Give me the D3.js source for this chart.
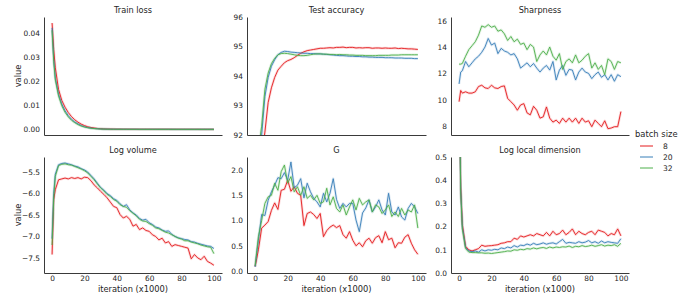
<!DOCTYPE html>
<html>
<head>
<meta charset="utf-8">
<script src="https://cdn.jsdelivr.net/npm/d3@7"></script>
<style>
  html, body { margin: 0; padding: 0; background: #fff; }
  svg { display: block; font-family: "DejaVu Sans", sans-serif; }
</style>
</head>
<body>
<svg id="chart" width="685" height="303"></svg>
<script>
// iteration (x1000) at which every series was logged
var iters = [0, 1, 2, 4, 6, 8, 10, 12, 14, 16, 18, 20, 22, 24, 26, 28, 30, 32, 34, 36, 38, 40,
  42, 44, 46, 48, 50, 52, 54, 56, 58, 60, 62, 64, 66, 68, 70, 72, 74, 76, 78, 80, 82, 84, 86,
  88, 90, 92, 94, 96, 98, 100];
var batchSizes = ['8', '20', '32'];
var xTicks = [0, 20, 40, 60, 80, 100];

var trainLoss8 = [0.044, 0.033, 0.0255, 0.0165, 0.012, 0.0092, 0.007, 0.0053, 0.004, 0.003, 0.0022,
  0.0016, 0.0011, 0.0008, 0.0006, 0.0004, 0.0003, 0.0002, 0.00016, 0.00013, 0.00011, 0.0001, 0.0001,
  0.00009, 0.00009, 0.00008, 0.00008, 0.00008, 0.00007, 0.00007, 0.00007, 0.00007, 0.00006, 0.00006,
  0.00006, 0.00006, 0.00006, 0.00006, 0.00005, 0.00005, 0.00005, 0.00005, 0.00005, 0.00005, 0.00005,
  0.00005, 0.00005, 0.00004, 0.00004, 0.00004, 0.00004, 0.00004];
var trainLoss20 = [0.042, 0.029, 0.0212, 0.0145, 0.0105, 0.0077, 0.0057, 0.0042, 0.0031, 0.0023,
  0.0016, 0.0011, 0.0008, 0.00055, 0.0004, 0.0003, 0.0002, 0.00015, 0.00012, 0.0001, 0.00009, 0.00008,
  0.00008, 0.00007, 0.00007, 0.00006, 0.00006, 0.00006, 0.00005, 0.00005, 0.00005, 0.00005, 0.00005,
  0.00005, 0.00005, 0.00005, 0.00005, 0.00005, 0.00004, 0.00004, 0.00004, 0.00004, 0.00004, 0.00004,
  0.00004, 0.00004, 0.00004, 0.00004, 0.00004, 0.00004, 0.00004, 0.00004];
var trainLoss32 = [0.041, 0.028, 0.0205, 0.0138, 0.0098, 0.0071, 0.0052, 0.0038, 0.0028, 0.002,
  0.0014, 0.001, 0.0007, 0.0005, 0.00035, 0.00025, 0.00018, 0.00013, 0.0001, 0.00009, 0.00008, 0.00007,
  0.00007, 0.00006, 0.00006, 0.00005, 0.00005, 0.00005, 0.00004, 0.00004, 0.00004, 0.00004, 0.00004,
  0.00004, 0.00004, 0.00004, 0.00004, 0.00004, 0.00004, 0.00004, 0.00003, 0.00003, 0.00003, 0.00003,
  0.00003, 0.00003, 0.00003, 0.00003, 0.00003, 0.00003, 0.00003, 0.00003];

var testAcc8 = [86.0, 88.5, 90.0, 91.3, 92.1, 93.1, 93.6, 93.95, 94.2, 94.33, 94.45, 94.52, 94.56,
  94.62, 94.7, 94.77, 94.82, 94.86, 94.88, 94.9, 94.92, 94.94, 94.94, 94.95, 94.96, 94.95, 94.97,
  94.97, 94.98, 94.96, 94.97, 94.97, 94.95, 94.96, 94.95, 94.96, 94.96, 94.94, 94.95, 94.95, 94.94,
  94.95, 94.94, 94.94, 94.95, 94.93, 94.94, 94.93, 94.92, 94.92, 94.91, 94.9];
var testAcc20 = [89.5, 90.5, 91.3, 92.0, 93.3, 93.95, 94.33, 94.55, 94.72, 94.8, 94.84, 94.83, 94.81,
  94.8, 94.79, 94.78, 94.77, 94.77, 94.76, 94.76, 94.75, 94.75, 94.74, 94.73, 94.72, 94.71, 94.7,
  94.69, 94.69, 94.68, 94.67, 94.67, 94.66, 94.66, 94.65, 94.65, 94.64, 94.64, 94.63, 94.63, 94.63,
  94.62, 94.62, 94.62, 94.61, 94.61, 94.61, 94.6, 94.6, 94.6, 94.59, 94.59];
var testAcc32 = [89.0, 90.8, 91.5, 92.3, 93.55, 94.1, 94.42, 94.6, 94.72, 94.76, 94.77, 94.76, 94.74,
  94.72, 94.7, 94.69, 94.69, 94.7, 94.72, 94.74, 94.75, 94.75, 94.74, 94.74, 94.73, 94.73, 94.72,
  94.73, 94.72, 94.72, 94.71, 94.71, 94.7, 94.7, 94.7, 94.69, 94.69, 94.69, 94.69, 94.7, 94.7, 94.7,
  94.7, 94.71, 94.71, 94.71, 94.72, 94.72, 94.72, 94.72, 94.72, 94.72];

var sharp8 = [9.85, 10.7, 10.5, 10.6, 10.5, 10.5, 10.6, 11.0, 11.1, 10.9, 10.85, 11.1, 10.9, 10.85,
  11.0, 11.05, 10.1, 9.85, 9.6, 9.2, 9.6, 9.7, 9.0, 8.85, 9.5, 9.2, 8.6, 8.7, 9.45, 8.6, 8.3, 8.45,
  8.2, 8.6, 8.3, 8.6, 8.3, 8.6, 8.2, 8.6, 8.3, 8.4, 7.95, 8.45, 8.2, 7.95, 8.4, 7.8, 7.85, 7.95,
  7.95, 9.1];
var sharp20 = [11.2, 12.1, 12.2, 12.9, 12.5, 12.8, 13.1, 13.3, 13.6, 14.0, 14.65, 14.15, 14.3, 13.5,
  13.9, 13.7, 13.6, 13.4, 13.5, 13.1, 12.4, 12.6, 12.8, 12.5, 12.75, 12.4, 12.1, 12.4, 12.6, 12.25,
  12.9, 11.5, 12.25, 12.6, 11.85, 12.3, 12.25, 11.5, 12.1, 12.4, 12.1, 12.0, 11.6, 11.9, 12.1, 11.7,
  11.9, 11.5, 11.9, 11.4, 11.9, 11.75];
var sharp32 = [12.7, 12.7, 12.75, 13.3, 13.8, 14.1, 14.4, 14.9, 15.6, 15.5, 15.7, 15.5, 15.6, 15.2,
  15.3, 15.0, 14.5, 14.8, 14.4, 14.6, 14.2, 14.3, 13.8, 14.2, 14.0, 12.9, 13.4, 13.7, 13.4, 14.0,
  13.3, 13.0, 13.5, 12.3, 12.9, 13.1, 12.8, 13.4, 12.8, 13.0, 13.3, 13.5, 12.4, 12.8, 12.3, 12.6,
  11.9, 13.1, 12.9, 12.3, 12.9, 12.8];

var logVol8 = [-7.42, -6.14, -5.91, -5.68, -5.66, -5.64, -5.66, -5.63, -5.65, -5.63, -5.66, -5.62,
  -5.63, -5.7, -5.8, -5.87, -5.95, -6.02, -6.1, -6.2, -6.3, -6.33, -6.49, -6.57, -6.53, -6.6, -6.76,
  -6.72, -6.84, -6.8, -6.86, -6.88, -6.96, -7.0, -7.08, -7.04, -7.15, -7.12, -7.23, -7.19, -7.21,
  -7.23, -7.25, -7.27, -7.52, -7.42, -7.5, -7.54, -7.46, -7.58, -7.62, -7.67];
var logVol20 = [-7.05, -6.0, -5.55, -5.33, -5.3, -5.29, -5.31, -5.33, -5.36, -5.38, -5.42, -5.45,
  -5.5, -5.58, -5.66, -5.76, -5.86, -5.92, -6.0, -6.05, -6.12, -6.16, -6.24, -6.3, -6.26, -6.38,
  -6.45, -6.5, -6.58, -6.62, -6.6, -6.68, -6.72, -6.78, -6.8, -6.85, -6.88, -6.87, -6.95, -7.0,
  -7.03, -7.05, -7.07, -7.08, -7.12, -7.13, -7.16, -7.18, -7.2, -7.22, -7.23, -7.28];
var logVol32 = [-7.2, -6.1, -5.6, -5.35, -5.32, -5.31, -5.33, -5.34, -5.37, -5.4, -5.43, -5.47,
  -5.52, -5.6, -5.68, -5.78, -5.87, -5.94, -6.02, -6.07, -6.14, -6.18, -6.26, -6.3, -6.32, -6.4,
  -6.46, -6.52, -6.6, -6.64, -6.65, -6.7, -6.74, -6.8, -6.82, -6.86, -6.9, -6.92, -6.96, -7.0,
  -7.04, -7.06, -7.1, -7.1, -7.13, -7.15, -7.17, -7.2, -7.22, -7.24, -7.25, -7.4];

var gVal8 = [0.09, 0.25, 0.42, 0.85, 0.91, 0.98, 1.2, 1.35, 1.22, 1.6, 1.62, 1.8, 1.58, 1.67, 1.54,
  1.5, 0.9, 1.14, 1.17, 1.12, 1.04, 1.14, 0.68, 0.8, 0.87, 0.91, 0.86, 0.9, 0.72, 0.65, 0.78, 0.61,
  0.5, 0.56, 0.48, 0.6, 0.65, 0.55, 0.66, 0.7, 0.56, 0.78, 0.62, 0.65, 0.46, 0.56, 0.55, 0.67, 0.72,
  0.55, 0.42, 0.33];
var gVal20 = [0.08, 0.35, 0.61, 1.12, 1.1, 1.4, 1.57, 1.7, 1.85, 1.83, 1.95, 1.8, 2.16, 1.65, 1.7,
  1.83, 1.45, 1.74, 1.57, 1.44, 1.37, 1.27, 1.54, 1.37, 1.54, 1.83, 1.42, 1.24, 1.34, 1.27, 1.34,
  1.34, 1.01, 0.78, 1.15, 1.25, 1.41, 1.17, 1.27, 1.41, 1.21, 1.11, 1.54, 1.17, 1.11, 1.27, 1.07,
  1.01, 1.24, 1.34, 1.27, 1.14];
var gVal32 = [0.1, 0.4, 0.68, 1.0, 1.34, 1.47, 1.5, 1.74, 1.6, 1.97, 2.1, 1.74, 1.87, 1.57, 1.67,
  1.5, 1.67, 1.44, 1.5, 1.41, 1.5, 1.34, 1.37, 1.64, 1.31, 1.47, 1.24, 1.17, 1.31, 1.11, 1.27, 1.41,
  1.21, 1.44, 1.31, 1.37, 1.41, 1.17, 1.31, 1.27, 1.14, 1.21, 1.31, 1.08, 1.17, 1.08, 1.24, 1.11,
  1.21, 1.17, 1.31, 0.85];

var localDim8 = [0.9, 0.37, 0.21, 0.115, 0.1, 0.095, 0.1, 0.105, 0.12, 0.115, 0.117, 0.118, 0.12,
  0.122, 0.128, 0.13, 0.135, 0.135, 0.15, 0.145, 0.16, 0.155, 0.16, 0.165, 0.16, 0.17, 0.165, 0.16,
  0.175, 0.16, 0.18, 0.165, 0.17, 0.185, 0.165, 0.175, 0.19, 0.165, 0.18, 0.17, 0.165, 0.175, 0.18,
  0.165, 0.185, 0.18, 0.175, 0.16, 0.17, 0.165, 0.19, 0.16];
var localDim20 = [0.88, 0.36, 0.2, 0.11, 0.095, 0.092, 0.095, 0.09, 0.1, 0.095, 0.1, 0.098, 0.102,
  0.1, 0.108, 0.105, 0.112, 0.108, 0.118, 0.112, 0.12, 0.118, 0.125, 0.12, 0.128, 0.122, 0.125, 0.13,
  0.124, 0.128, 0.13, 0.125, 0.135, 0.145, 0.128, 0.132, 0.13, 0.128, 0.135, 0.13, 0.133, 0.14, 0.13,
  0.135, 0.128, 0.138, 0.13, 0.135, 0.132, 0.13, 0.128, 0.148];
var localDim32 = [0.86, 0.35, 0.19, 0.105, 0.09, 0.088, 0.088, 0.087, 0.087, 0.085, 0.086, 0.084,
  0.086, 0.088, 0.09, 0.092, 0.095, 0.094, 0.1, 0.098, 0.102, 0.1, 0.105, 0.103, 0.108, 0.104, 0.108,
  0.11, 0.106, 0.112, 0.108, 0.112, 0.11, 0.113, 0.112, 0.116, 0.11, 0.115, 0.113, 0.118, 0.114,
  0.116, 0.12, 0.115, 0.118, 0.122, 0.116, 0.12, 0.118, 0.122, 0.115, 0.128];

var trainLossTicks = [0, 0.01, 0.02, 0.03, 0.04];
var testAccTicks = [92, 93, 94, 95, 96];
var sharpTicks = [8, 10, 12, 14, 16];
var logVolTicks = [-7.5, -7.0, -6.5, -6.0, -5.5];
var gTicks = [0, 0.5, 1.0, 1.5, 2.0];
var localDimTicks = [0, 0.1, 0.2, 0.3, 0.4, 0.5];

var colors = ['#e41a1c', '#377eb8', '#4daf4a'];
var textColor = '#262626';
var cols = [[44, 222], [247, 426], [451, 629]];
var rows = [[17, 135], [157, 273]];

var minus = function(s) { return s.replace('-', '\u2212'); };

var panels = [
  {title: 'Train loss', series: [trainLoss8, trainLoss20, trainLoss32], ylim: [-0.0023, 0.0465],
    ticks: trainLossTicks, fmt: d3.format('.2f'), col: 0, row: 0},
  {title: 'Test accuracy', series: [testAcc8, testAcc20, testAcc32], ylim: [92, 96],
    ticks: testAccTicks, fmt: d3.format('d'), col: 1, row: 0},
  {title: 'Sharpness', series: [sharp8, sharp20, sharp32], ylim: [7.32, 16.28],
    ticks: sharpTicks, fmt: d3.format('d'), col: 2, row: 0},
  {title: 'Log volume', series: [logVol8, logVol20, logVol32], ylim: [-7.85, -5.15],
    ticks: logVolTicks, fmt: d3.format('.1f'), col: 0, row: 1},
  {title: 'G', series: [gVal8, gVal20, gVal32], ylim: [-0.04, 2.26],
    ticks: gTicks, fmt: d3.format('.1f'), col: 1, row: 1},
  {title: 'Log local dimension', series: [localDim8, localDim20, localDim32], ylim: [0, 0.5],
    ticks: localDimTicks, fmt: d3.format('.1f'), col: 2, row: 1}
];

var svg = d3.select('#chart');
var defs = svg.append('defs');

panels.forEach(function(p, i) {
  var x0 = cols[p.col][0], x1 = cols[p.col][1];
  var y0 = rows[p.row][0], y1 = rows[p.row][1];
  var x = d3.scaleLinear().domain([-5, 105]).range([x0, x1]);
  var y = d3.scaleLinear().domain(p.ylim).range([y1, y0]);

  defs.append('clipPath').attr('id', 'clip' + i)
    .append('rect')
    .attr('x', x0).attr('y', y0)
    .attr('width', x1 - x0).attr('height', y1 - y0);

  var g = svg.append('g');

  // lines, drawn under the axes; a faint wide copy stands in for the band
  var plot = g.append('g').attr('clip-path', 'url(#clip' + i + ')');
  var line = d3.line()
    .x(function(d, j) { return x(iters[j]); })
    .y(function(d) { return y(d); });

  p.series.forEach(function(vals, k) {
    plot.append('path')
      .attr('d', line(vals))
      .attr('fill', 'none')
      .attr('stroke', colors[k])
      .attr('stroke-opacity', 0.16)
      .attr('stroke-width', 2.6)
      .attr('stroke-linejoin', 'round');
  });
  p.series.forEach(function(vals, k) {
    plot.append('path')
      .attr('d', line(vals))
      .attr('fill', 'none')
      .attr('stroke', colors[k])
      .attr('stroke-width', 0.9)
      .attr('stroke-linejoin', 'round');
  });

  var yAxis = g.append('g')
    .attr('transform', 'translate(' + x0 + ',0)')
    .call(d3.axisLeft(y).tickValues(p.ticks).tickSize(0).tickPadding(4)
      .tickFormat(function(d) { return minus(p.fmt(d)); }));

  var xAxis = g.append('g')
    .attr('transform', 'translate(0,' + y1 + ')')
    .call(d3.axisBottom(x).tickValues(xTicks).tickSize(0).tickPadding(3)
      .tickFormat(p.row === 1 ? d3.format('d') : function() { return ''; }));

  [yAxis, xAxis].forEach(function(ax) {
    ax.select('.domain').attr('stroke', '#3a3a3a').attr('stroke-width', 1);
    ax.selectAll('text')
      .attr('fill', textColor)
      .style('font-size', '7.4px')
      .style('font-family', '"DejaVu Sans", sans-serif');
  });

  g.append('text')
    .attr('x', (x0 + x1) / 2)
    .attr('y', y0 - 4)
    .attr('text-anchor', 'middle')
    .attr('fill', textColor)
    .style('font-size', '8.2px')
    .text(p.title);

  if (p.row === 1) {
    g.append('text')
      .attr('x', (x0 + x1) / 2)
      .attr('y', 292)
      .attr('text-anchor', 'middle')
      .attr('fill', textColor)
      .style('font-size', '8.3px')
      .text('iteration (x1000)');
  }
  if (p.col === 0) {
    g.append('text')
      .attr('transform', 'translate(21,' + ((y0 + y1) / 2) + ') rotate(-90)')
      .attr('text-anchor', 'middle')
      .attr('fill', textColor)
      .style('font-size', '8.3px')
      .text('value');
  }
});

// legend
var legend = svg.append('g');
legend.append('text')
  .attr('x', 635).attr('y', 137)
  .attr('fill', textColor)
  .style('font-size', '8.4px')
  .text('batch size');

batchSizes.forEach(function(b, k) {
  var yy = 146 + k * 11;
  legend.append('line')
    .attr('x1', 640).attr('x2', 653)
    .attr('y1', yy).attr('y2', yy)
    .attr('stroke', colors[k])
    .attr('stroke-width', 1);
  legend.append('text')
    .attr('x', 663).attr('y', yy + 3)
    .attr('fill', textColor)
    .style('font-size', '7.6px')
    .text(b);
});
</script>
</body>
</html>
